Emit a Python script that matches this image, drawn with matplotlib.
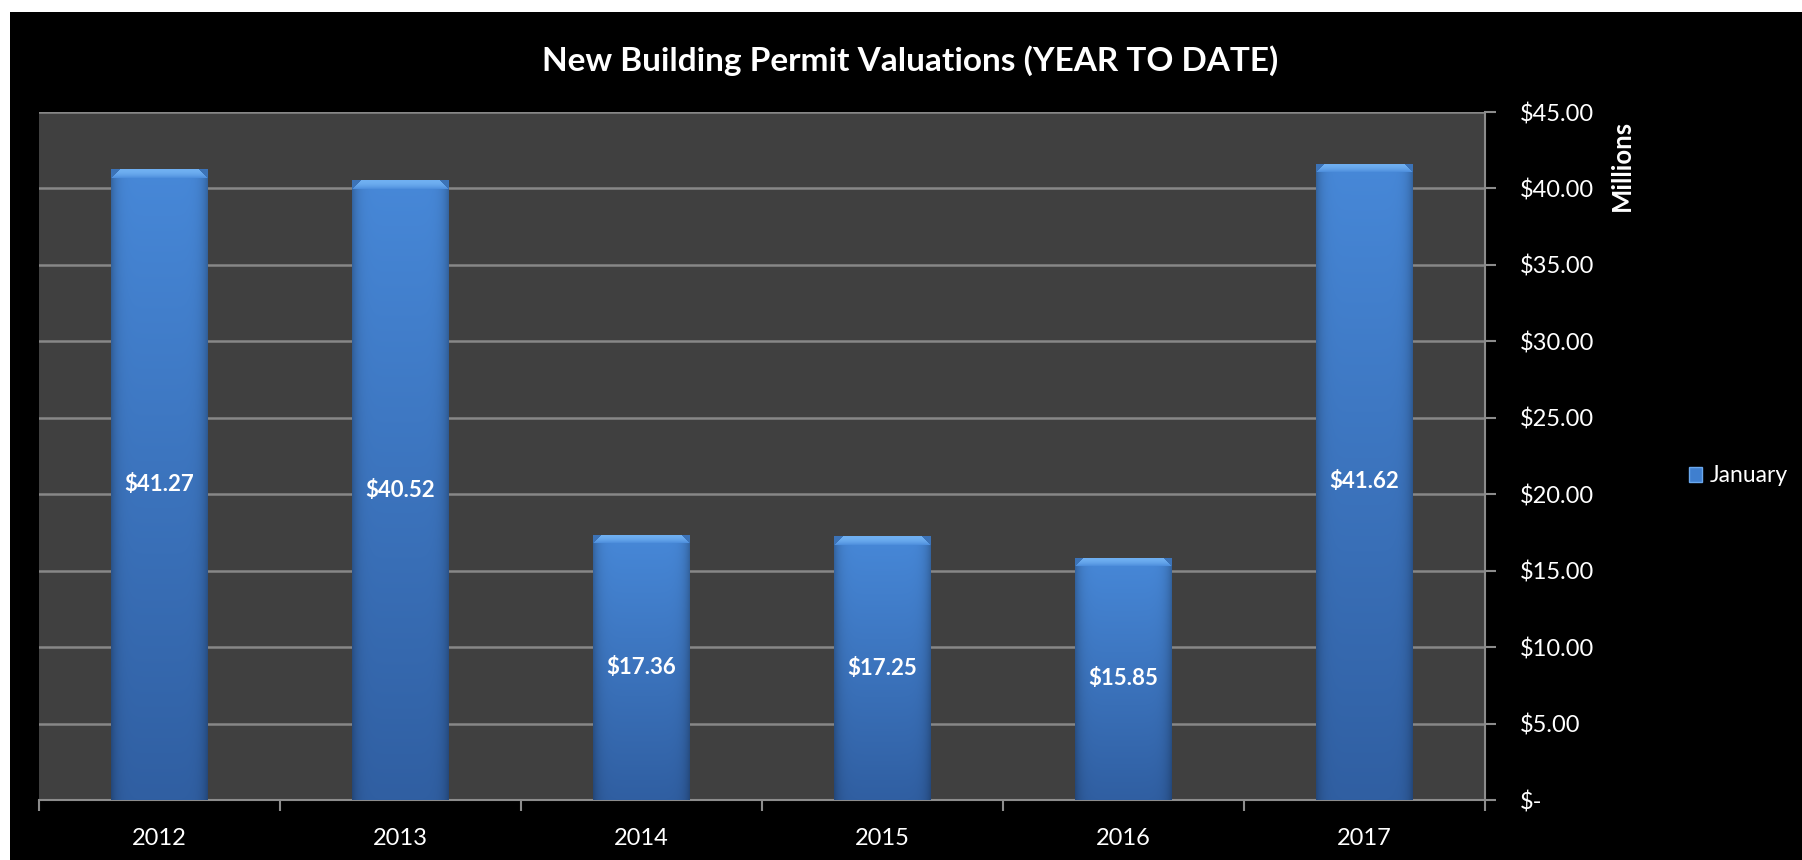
import numpy as np
import matplotlib.pyplot as plt
from matplotlib.patches import Rectangle, Patch

# data
years = ['2012', '2013', '2014', '2015', '2016', '2017']
january = [41.27, 40.52, 17.36, 17.25, 15.85, 41.62]
y_ticks = [0, 5, 10, 15, 20, 25, 30, 35, 40, 45]

plt.rcParams['font.family'] = ['Lato', 'DejaVu Sans']

fig = plt.figure(figsize=(18.02, 8.6), dpi=100)
fig.patch.set_facecolor('white')
# black chart area inside a thin white border (top and left)
fig.patches.append(Rectangle((10 / 1802, 0), 1 - 10 / 1802, 1 - 12 / 860,
                             transform=fig.transFigure, facecolor='black',
                             edgecolor='none', zorder=-5))

ax = fig.add_axes([39 / 1802, 60 / 860, (1485 - 39) / 1802, (800 - 112) / 860])
ax.set_facecolor('#404040')

x = np.arange(len(years))
bar_w = 0.4
bars = ax.bar(x, january, width=bar_w, color='#3d78c4', zorder=2)

# gradient fill with a bevel at the top of each bar
top_c = np.array([0x47, 0x88, 0xd8]) / 255
bot_c = np.array([0x30, 0x5f, 0xa2]) / 255
bevel_c = np.array([0x70, 0xb0, 0xf2]) / 255
px_per_unit = 688 / 45
for b, v in zip(bars, january):
    ny = max(int(v * px_per_unit), 2)
    nx = 97
    t = np.linspace(1, 0, ny)[:, None, None]
    img = bot_c + (top_c - bot_c) * t
    img = np.broadcast_to(img, (ny, nx, 3)).copy()
    u = np.linspace(-1, 1, nx)
    edge = 1 - 0.25 * np.abs(u) ** 8
    img *= edge[None, :, None]
    bev = 9
    for r in range(min(bev, ny)):
        lo = bev - r
        img[r, :lo] = top_c * 0.85
        img[r, nx - lo:] = top_c * 0.85
        img[r, lo:nx - lo] = bevel_c + (top_c - bevel_c) * (r / bev) ** 2
    x0 = b.get_x()
    im = ax.imshow(img, extent=(x0, x0 + b.get_width(), 0, v), aspect='auto',
                   zorder=3, interpolation='bilinear')
    im.set_clip_path(b)
    ax.text(b.get_x() + b.get_width() / 2, v / 2, '${:.2f}'.format(v),
            ha='center', va='center', color='white', fontsize=16,
            fontweight='bold', zorder=4)

ax.set_xlim(-0.5, len(years) - 0.5)
ax.set_ylim(0, 45)

# y axis on the right
ax.yaxis.tick_right()
ax.set_yticks(y_ticks)
ax.set_yticklabels(['$-' if t == 0 else '${:.2f}'.format(t) for t in y_ticks])
ax.tick_params(axis='y', direction='out', length=8, width=1.5, color='#8c8c8c',
               labelcolor='white', labelsize=17, pad=17)
ax.grid(axis='y', color='#878787', linewidth=1.8, zorder=1)
ax.set_axisbelow(True)

# x ticks at category boundaries, labels at centres
ax.set_xticks(np.arange(-0.5, len(years), 1))
ax.set_xticklabels([])
ax.set_xticks(x, minor=True)
ax.set_xticklabels(years, minor=True)
ax.tick_params(axis='x', which='major', direction='out', length=8, width=1.5,
               color='#8c8c8c')
ax.tick_params(axis='x', which='minor', length=0, labelcolor='white',
               labelsize=17, pad=20)

for s in ['left', 'top']:
    ax.spines[s].set_visible(False)
for s in ['right', 'bottom']:
    ax.spines[s].set_color('#8c8c8c')
    ax.spines[s].set_linewidth(1.5)

fig.text(0.505, 0.930, 'New Building Permit Valuations (YEAR TO DATE)',
         ha='center', va='center', color='white', fontsize=24, fontweight='bold')
fig.text(1622 / 1802, (860 - 165) / 860, 'Millions', rotation=90,
         ha='center', va='center', color='white', fontsize=18.5, fontweight='bold')

handle = Patch(facecolor='#3f7fcf', edgecolor='#6aa8ee', label='January')
fig.legend(handles=[handle], loc='center left',
           bbox_to_anchor=(1668 / 1802, (860 - 476) / 860), frameon=False,
           handlelength=0.6, handleheight=0.6, handletextpad=0.3,
           fontsize=16.5, labelcolor='white')

fig.savefig('out.png', dpi=100, facecolor=fig.get_facecolor())
